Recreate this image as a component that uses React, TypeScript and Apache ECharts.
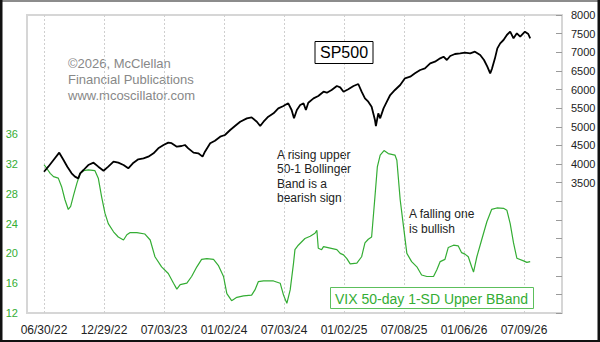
import React, { useEffect, useRef } from "react";
import * as echarts from "echarts";

// x = trading-day index from 06/30/22 (126 trading days per half year)
const tickDays = [0, 126, 252, 378, 504, 630, 756, 882, 1008];
const tickLabels = ["06/30/22", "12/29/22", "07/03/23", "01/02/24", "07/03/24", "01/02/25", "07/08/25", "01/06/26", "07/09/26"];

const spDays = [0, 9, 20, 32, 41, 49, 58, 65, 72, 76, 83, 93, 104, 114, 125, 135, 146, 156, 167, 177, 188, 198, 209, 219, 230, 240, 251, 261, 268, 279, 289, 296, 303, 314, 324, 333, 338, 349, 359, 370, 380, 391, 401, 412, 426, 436, 447, 454, 461, 471, 482, 492, 503, 506, 513, 520, 525, 531, 538, 545, 550, 555, 566, 576, 587, 594, 604, 615, 622, 629, 639, 650, 660, 667, 674, 681, 688, 695, 697, 702, 706, 713, 720, 727, 737, 748, 758, 769, 779, 790, 800, 811, 821, 832, 839, 846, 853, 863, 874, 884, 895, 905, 916, 924, 931, 937, 941, 947, 952, 958, 965, 972, 979, 986, 993, 1000, 1010, 1017, 1021];
const spValues = [3793, 3928, 4107, 4304, 4107, 3928, 3750, 3660, 3615, 3750, 3839, 3973, 4035, 3928, 3820, 3928, 4062, 4035, 3973, 3884, 4035, 4125, 4150, 4197, 4287, 4421, 4510, 4573, 4560, 4465, 4483, 4510, 4421, 4304, 4287, 4197, 4331, 4555, 4626, 4733, 4779, 4913, 5020, 5136, 5226, 5253, 5136, 5020, 5136, 5271, 5360, 5494, 5557, 5584, 5628, 5450, 5226, 5450, 5584, 5628, 5450, 5646, 5763, 5825, 5941, 5915, 5987, 6094, 6058, 5941, 6005, 6094, 6148, 5941, 5763, 5673, 5539, 5181, 5020, 5360, 5226, 5494, 5673, 5852, 5987, 6121, 6300, 6345, 6434, 6523, 6568, 6702, 6747, 6836, 6881, 6792, 6899, 6953, 6970, 6988, 6970, 7015, 6926, 6792, 6613, 6434, 6568, 6836, 7105, 7239, 7329, 7463, 7553, 7374, 7508, 7418, 7553, 7490, 7374];

const vixDays = [0, 6, 13, 20, 30, 37, 44, 51, 56, 62, 69, 76, 83, 93, 107, 114, 121, 128, 135, 146, 156, 167, 174, 181, 195, 212, 223, 233, 247, 261, 272, 279, 286, 300, 310, 321, 331, 342, 356, 366, 377, 384, 394, 405, 419, 436, 443, 450, 461, 482, 496, 503, 510, 517, 524, 527, 534, 548, 559, 569, 573, 576, 583, 587, 601, 615, 622, 629, 636, 643, 657, 667, 674, 681, 688, 695, 700, 706, 714, 723, 737, 741, 748, 755, 762, 772, 783, 793, 804, 818, 825, 832, 842, 849, 860, 870, 877, 884, 891, 898, 902, 909, 919, 930, 940, 951, 965, 972, 979, 986, 993, 1007, 1014, 1021];
const vixValues = [31.9, 31.4, 30.75, 30.3, 30.1, 28.95, 27.2, 25.9, 26.3, 27.8, 29.4, 30.75, 31.1, 31.2, 31.1, 30.1, 27.6, 25.4, 24.0, 22.9, 22.2, 21.8, 22.5, 22.8, 22.8, 22.6, 21.8, 19.55, 18.2, 17.3, 16.0, 15.2, 15.8, 16.0, 16.9, 18.2, 19.2, 19.3, 19.2, 18.4, 16.9, 14.6, 13.65, 14.1, 14.3, 14.4, 15.1, 16.2, 16.3, 16.3, 16.0, 14.4, 13.3, 15.1, 18.7, 20.5, 21.1, 22.0, 22.3, 22.7, 23.1, 20.7, 20.5, 20.9, 20.7, 20.5, 20.0, 19.8, 19.3, 18.6, 18.7, 19.55, 21.4, 21.9, 22.2, 27.6, 31.6, 33.2, 33.8, 33.4, 33.2, 32.5, 27.2, 23.6, 20.0, 18.9, 18.2, 17.1, 16.9, 16.9, 17.8, 18.9, 19.2, 20.8, 21.1, 21.0, 20.1, 19.9, 19.55, 18.2, 17.5, 19.55, 21.8, 24.25, 25.9, 26.1, 26.05, 25.8, 24.0, 21.4, 19.35, 19.0, 18.8, 18.9];

const GREEN = "#34ad34";
const FONT = 'Arial, "Liberation Sans", sans-serif';

export default function App() {
  const ref = useRef<HTMLDivElement>(null);
  useEffect(() => {
    if (!ref.current) return;
    const chart = echarts.init(ref.current, undefined, { renderer: "svg" });
    const spData = spDays.map((d, i) => [d, spValues[i]]);
    const vixData = vixDays.map((d, i) => [d, vixValues[i]]);
    chart.setOption({
      animation: false,
      backgroundColor: "#fff",
      grid: {
        left: 27,
        right: 38,
        top: 15,
        bottom: 29,
        show: true,
        borderColor: "#d6d6d6",
        borderWidth: 2,
        backgroundColor: "#fff",
      },
      xAxis: {
        type: "value",
        min: -35.7,
        max: 1087.8,
        axisLine: { show: false },
        axisTick: { show: false, customValues: tickDays },
        axisLabel: {
          customValues: tickDays,
          formatter: (v: number) => tickLabels[Math.round(v / 126)] ?? "",
          color: "#222",
          fontSize: 12,
          fontFamily: FONT,
          margin: 11,
        },
        splitLine: { show: true, lineStyle: { color: "#cfcfcf", type: [2, 2], width: 1 } },
      },
      yAxis: [
        {
          type: "value",
          position: "left",
          min: 12,
          max: 52,
          interval: 4,
          axisLine: { show: false },
          axisTick: { show: false },
          splitLine: { show: false },
          axisLabel: {
            color: GREEN,
            fontSize: 11,
            fontFamily: FONT,
            margin: 9,
            formatter: (v: number) => (v <= 36 ? String(v) : ""),
          },
        },
        {
          type: "value",
          position: "right",
          min: 0,
          max: 8000,
          interval: 500,
          axisLine: { show: false },
          axisTick: { show: true, inside: true, length: 6, lineStyle: { color: "#9a9a9a" } },
          splitLine: { show: false },
          axisLabel: {
            color: "#222",
            fontSize: 11,
            fontFamily: FONT,
            margin: 9,
            formatter: (v: number) => (v >= 3500 ? String(v) : ""),
          },
        },
      ],
      series: [
        {
          name: "VIX 50-day 1-SD Upper BBand",
          type: "line",
          yAxisIndex: 0,
          data: vixData,
          showSymbol: false,
          lineStyle: { color: GREEN, width: 1.2 },
          z: 2,
        },
        {
          name: "SP500",
          type: "line",
          yAxisIndex: 1,
          data: spData,
          showSymbol: false,
          lineStyle: { color: "#000", width: 1.8 },
          z: 3,
        },
      ],
      graphic: [
        {
          type: "text",
          x: 68,
          y: 55,
          style: {
            text: "©2026, McClellan\nFinancial Publications\nwww.mcoscillator.com",
            fill: "#888",
            font: `13px ${FONT}`,
            lineHeight: 16,
          },
        },
        {
          type: "rect",
          shape: { x: 315, y: 41.5, width: 58, height: 22 },
          style: { fill: "#fff", stroke: "#000", lineWidth: 1 },
          z: 10,
        },
        {
          type: "text",
          x: 344,
          y: 52.5,
          style: { text: "SP500", fill: "#000", font: `16px ${FONT}`, align: "center", verticalAlign: "middle" },
          z: 11,
        },
        {
          type: "text",
          x: 277,
          y: 148,
          style: {
            text: "A rising upper\n50-1 Bollinger\nBand is a\nbearish sign",
            fill: "#222",
            font: `12px ${FONT}`,
            lineHeight: 14.3,
          },
        },
        {
          type: "text",
          x: 409,
          y: 206,
          style: { text: "A falling one\nis bullish", fill: "#222", font: `12px ${FONT}`, lineHeight: 15 },
        },
        {
          type: "rect",
          shape: { x: 330.5, y: 287.5, width: 203, height: 21 },
          style: { fill: "#fff", stroke: "#5cbf5c", lineWidth: 1 },
          z: 10,
        },
        {
          type: "text",
          x: 431.5,
          y: 298.5,
          style: { text: "VIX 50-day 1-SD Upper BBand", fill: GREEN, font: `14px ${FONT}`, align: "center", verticalAlign: "middle" },
          z: 11,
        },
        { type: "rect", shape: { x: 0, y: 0, width: 600, height: 2 }, style: { fill: "#8c8c8c" }, z: 20 },
        { type: "rect", shape: { x: 0, y: 0, width: 2.5, height: 342 }, style: { fill: "#111" }, z: 20 },
        { type: "rect", shape: { x: 597.5, y: 0, width: 2.5, height: 342 }, style: { fill: "#111" }, z: 20 },
        { type: "rect", shape: { x: 0, y: 340, width: 600, height: 2 }, style: { fill: "#111" }, z: 20 },
      ],
    });
    return () => chart.dispose();
  }, []);
  return (
    <div style={{ position: "fixed", left: 0, top: 0, width: 600, height: 342, background: "#fff" }}>
      <div ref={ref} style={{ width: 600, height: 342 }} />
    </div>
  );
}
